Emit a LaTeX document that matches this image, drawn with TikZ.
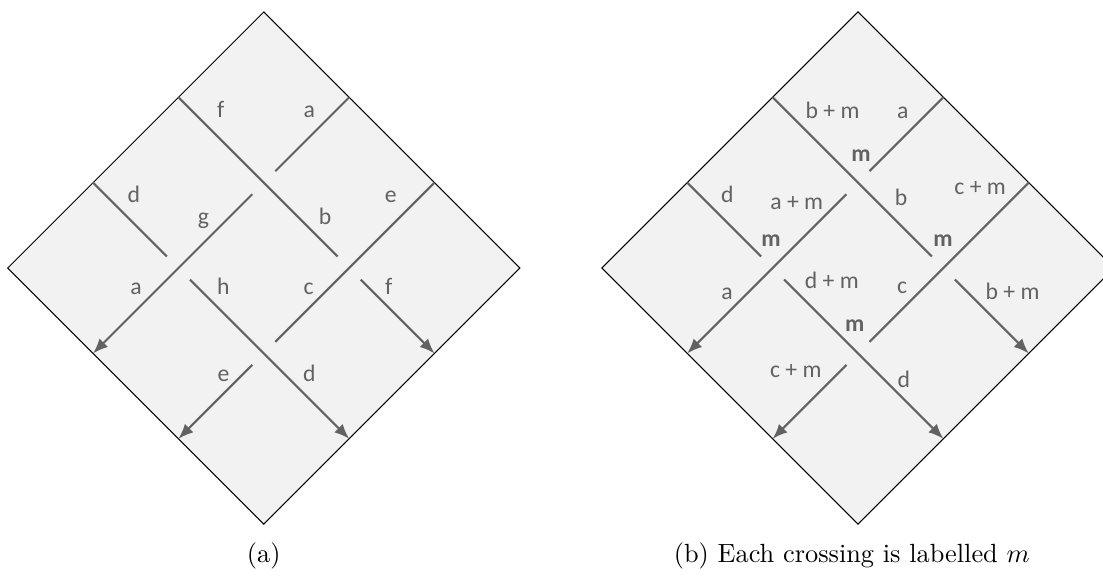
\documentclass[tikz,border=0pt]{standalone}
\usepackage{fontspec}
\usepackage{tikz}
\usetikzlibrary{arrows.meta}
\newfontfamily\knotfont{Carlito}
\definecolor{tilegray}{HTML}{F2F2F2}
\definecolor{strandgray}{HTML}{626262}
\tikzset{
	tile/.style={draw=black, line width=0.4pt, fill=tilegray},
	strand/.style={draw=strandgray, line width=0.8pt},
	strandend/.style={strand, -{Latex[length=2mm,width=1.6mm]}},
	lbl/.style={text=strandgray, font=\knotfont\fontsize{9}{11}\selectfont, anchor=base, inner sep=0pt},
	crosslbl/.style={lbl, font=\knotfont\bfseries\fontsize{9}{11}\selectfont}
}

\begin{document}
\begin{tikzpicture}[x=1.14cm, y=1.14cm]
			%%%%% START %%%%%
			\clip (0, 0) rectangle (12.92, 6.76);
			
			%%%%% (a) %%%%%
			\draw[tile] (3.09, 6.62) -- (6.09, 3.62) -- (3.09, 0.62) -- (0.09, 3.62) -- cycle;
			
			\draw[strand] (4.09, 5.62) -- (3.225, 4.755);
			\draw[strandend] (2.955, 4.485) -- (1.09, 2.62);
			\draw[strand] (5.09, 4.62) -- (3.225, 2.755);
			\draw[strandend] (2.955, 2.485) -- (2.09, 1.62);
			\draw[strand] (2.09, 5.62) -- (3.955, 3.755);
			\draw[strandend] (4.225, 3.485) -- (5.09, 2.62);
			\draw[strand] (1.09, 4.62) -- (1.955, 3.755);
			\draw[strandend] (2.225, 3.485) -- (4.09, 1.62);
			
			\node[lbl] (af1) at (2.585, 5.378) {f};
			\node[lbl] (aa1) at (3.623, 5.378) {a};
			\node[lbl] (ad1) at (1.567, 4.383) {d};
			\node[lbl] (ag) at (2.383, 4.13) {g};
			\node[lbl] (ab) at (3.809, 4.13) {b};
			\node[lbl] (ae1) at (4.577, 4.383) {e};
			\node[lbl] (aa2) at (1.595, 3.315) {a};
			\node[lbl] (ah) at (2.617, 3.315) {h};
			\node[lbl] (ac) at (3.615, 3.315) {c};
			\node[lbl] (af2) at (4.553, 3.315) {f};
			\node[lbl] (ae2) at (2.617, 2.292) {e};
			\node[lbl] (ad2) at (3.623, 2.292) {d};
			
			\node[anchor=base] (capa) at (3.09, 0.175) {(a)};
			
			%%%%% (b) %%%%%
			\draw[tile] (10.05, 6.62) -- (13.05, 3.62) -- (10.05, 0.62) -- (7.05, 3.62) -- cycle;
			
			\draw[strand] (11.05, 5.62) -- (10.185, 4.755);
			\draw[strandend] (9.915, 4.485) -- (8.05, 2.62);
			\draw[strand] (12.05, 4.62) -- (10.185, 2.755);
			\draw[strandend] (9.915, 2.485) -- (9.05, 1.62);
			\draw[strand] (9.05, 5.62) -- (10.915, 3.755);
			\draw[strandend] (11.185, 3.485) -- (12.05, 2.62);
			\draw[strand] (8.05, 4.62) -- (8.915, 3.755);
			\draw[strandend] (9.185, 3.485) -- (11.05, 1.62);
			
			\node[lbl] (bbm1) at (9.752, 5.373) {b + m};
			\node[lbl] (ba1) at (10.575, 5.373) {a};
			\node[crosslbl] (bm1) at (10.085, 4.873) {m};
			\node[lbl] (bd1) at (8.52, 4.386) {d};
			\node[lbl] (bam) at (9.332, 4.305) {a + m};
			\node[lbl] (bb) at (10.556, 4.353) {b};
			\node[lbl] (bcm1) at (11.481, 4.48) {c + m};
			\node[crosslbl] (bm2) at (9.03, 3.87) {m};
			\node[crosslbl] (bm3) at (11.046, 3.87) {m};
			\node[lbl] (ba2) at (8.517, 3.25) {a};
			\node[lbl] (bdm) at (9.744, 3.38) {d + m};
			\node[lbl] (bc) at (10.568, 3.32) {c};
			\node[lbl] (bbm2) at (11.86, 3.25) {b + m};
			\node[crosslbl] (bm4) at (10.011, 2.875) {m};
			\node[lbl] (bcm2) at (9.321, 2.34) {c + m};
			\node[lbl] (bd2) at (10.587, 2.22) {d};
			
			\node[anchor=base] (capb) at (9.977, 0.175) {(b) Each crossing is labelled $m$};
			%%%%% END %%%%%
\end{tikzpicture}
\end{document}
